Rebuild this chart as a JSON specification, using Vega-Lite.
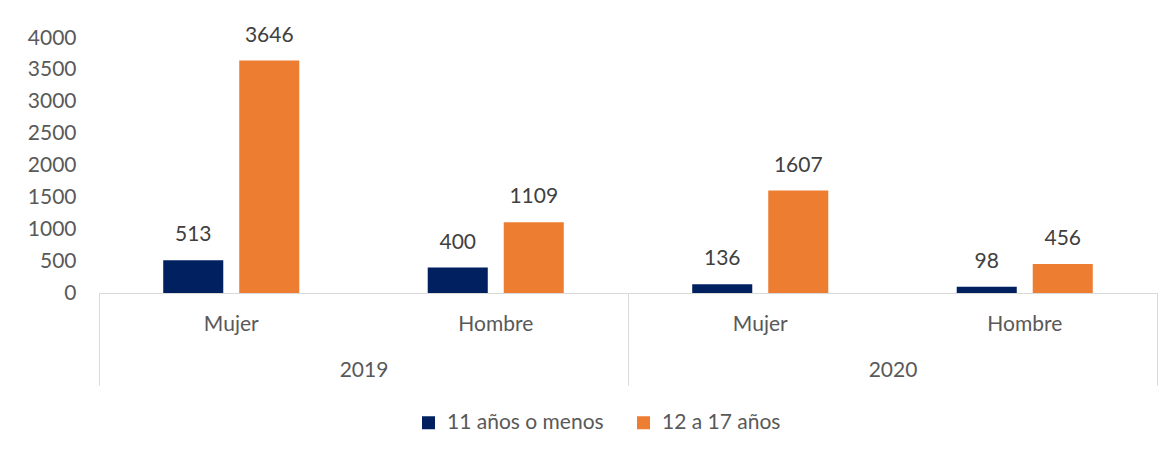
{
  "$schema": "https://vega.github.io/schema/vega-lite/v6.json",
  "width": 1058,
  "height": 255,
  "autosize": {"type": "none"},
  "padding": {"left": 99, "top": 38, "right": 14, "bottom": 162},
  "background": "white",
  "config": {
    "font": "Lato",
    "view": {"stroke": null}
  },
  "data": {
    "values": [
      {"year": "2019", "sex": "Mujer", "key": "2019 Mujer", "grupo": "11 años o menos", "valor": 513},
      {"year": "2019", "sex": "Mujer", "key": "2019 Mujer", "grupo": "12 a 17 años", "valor": 3646},
      {"year": "2019", "sex": "Hombre", "key": "2019 Hombre", "grupo": "11 años o menos", "valor": 400},
      {"year": "2019", "sex": "Hombre", "key": "2019 Hombre", "grupo": "12 a 17 años", "valor": 1109},
      {"year": "2020", "sex": "Mujer", "key": "2020 Mujer", "grupo": "11 años o menos", "valor": 136},
      {"year": "2020", "sex": "Mujer", "key": "2020 Mujer", "grupo": "12 a 17 años", "valor": 1607},
      {"year": "2020", "sex": "Hombre", "key": "2020 Hombre", "grupo": "11 años o menos", "valor": 98},
      {"year": "2020", "sex": "Hombre", "key": "2020 Hombre", "grupo": "12 a 17 años", "valor": 456}
    ]
  },
  "layer": [
    {
      "encoding": {
        "x": {
          "field": "key", "type": "nominal", "sort": null,
          "scale": {"paddingInner": 0, "paddingOuter": 0},
          "axis": {
            "orient": "bottom", "title": null, "ticks": false,
            "domain": true, "domainColor": "#d9d9d9", "domainWidth": 1,
            "labelAngle": 0, "labelPadding": 20, "labelFontSize": 21,
            "labelColor": "#595959", "labelFont": "Lato",
            "labelExpr": "split(datum.label, ' ')[1]"
          }
        },
        "xOffset": {
          "field": "grupo", "type": "nominal", "sort": null,
          "scale": {"paddingInner": 0.21, "paddingOuter": 0.845}
        },
        "y": {
          "field": "valor", "type": "quantitative",
          "scale": {"domain": [0, 4000], "nice": false},
          "axis": {
            "title": null, "domain": false, "ticks": false, "grid": false,
            "values": [0, 500, 1000, 1500, 2000, 2500, 3000, 3500, 4000],
            "format": "d",
            "labelPadding": 23, "labelFontSize": 21, "labelColor": "#595959",
            "labelFont": "Lato"
          }
        }
      },
      "layer": [
        {
          "mark": {"type": "bar"},
          "encoding": {
            "color": {
              "field": "grupo", "type": "nominal", "sort": null,
              "scale": {"domain": ["11 años o menos", "12 a 17 años"], "range": ["#002060", "#ED7D31"]},
              "legend": {
                "title": null, "orient": "none", "direction": "horizontal",
                "legendX": 319, "legendY": 374,
                "symbolType": "square", "symbolSize": 169, "symbolStrokeWidth": 0,
                "labelFontSize": 21, "labelColor": "#595959", "labelFont": "Lato",
                "labelOffset": 8, "columnPadding": 29
              }
            }
          }
        },
        {
          "mark": {"type": "text", "baseline": "alphabetic", "dy": -19, "fontSize": 21, "color": "#404040", "font": "Lato"},
          "encoding": {
            "text": {"field": "valor", "type": "quantitative", "format": "d"}
          }
        }
      ]
    },
    {
      "mark": {"type": "bar", "opacity": 0},
      "encoding": {
        "x": {
          "field": "year", "type": "nominal",
          "scale": {"paddingInner": 0, "paddingOuter": 0},
          "axis": {
            "orient": "bottom", "title": null,
            "tickBand": "extent", "ticks": true, "tickSize": 92, "tickColor": "#d9d9d9", "tickWidth": 1,
            "domain": true, "domainColor": "#d9d9d9",
            "labelAngle": 0, "labelPadding": -26, "labelFontSize": 21,
            "labelColor": "#595959", "labelFont": "Lato"
          }
        }
      }
    }
  ],
  "resolve": {"scale": {"x": "independent"}, "axis": {"x": "independent"}}
}
